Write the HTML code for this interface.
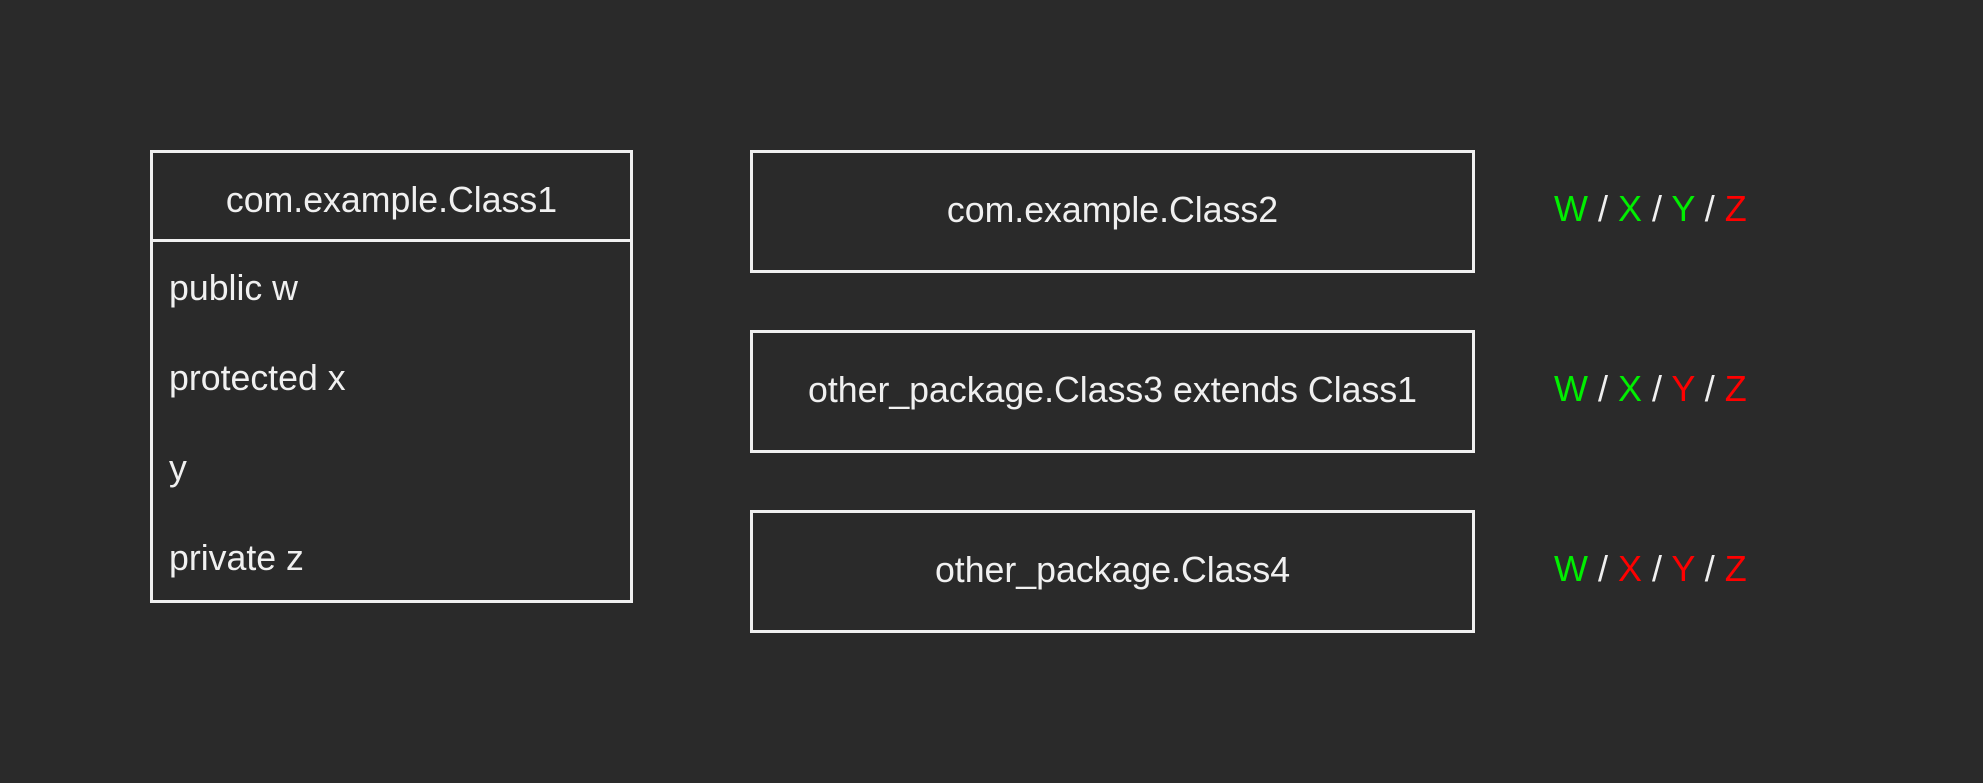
<!DOCTYPE html>
<html><head><meta charset="utf-8"><style>
html,body{margin:0;padding:0;background:#2a2a2a;}
body{width:1983px;height:783px;position:relative;overflow:hidden;font-family:"Liberation Sans",sans-serif;color:#f0f0f0;}
.b{position:absolute;border:3px solid #f0f0f0;box-sizing:border-box;}
.t{position:absolute;font-size:35.7px;line-height:40px;white-space:nowrap;}
.c{text-align:center;}
.g{color:#00ee00}.r{color:#ff0000}.w{color:#f0f0f0}
</style></head><body>
<div class="b" style="left:150px;top:150px;width:483px;height:453px;"></div>
<div style="position:absolute;left:150px;top:239px;width:483px;height:3px;background:#f0f0f0"></div>
<div class="t c" style="left:150px;width:483px;top:180px;">com.example.Class1</div>
<div class="t" style="left:169px;top:268px;">public w</div>
<div class="t" style="left:169px;top:358px;">protected x</div>
<div class="t" style="left:169px;top:448px;">y</div>
<div class="t" style="left:169px;top:538px;">private z</div>

<div class="b" style="left:750px;top:150px;width:725px;height:123px;"></div>
<div class="t c" style="left:750px;width:725px;top:190px;">com.example.Class2</div>
<div class="b" style="left:750px;top:330px;width:725px;height:123px;"></div>
<div class="t c" style="left:750px;width:725px;top:370px;">other_package.Class3 extends Class1</div>
<div class="b" style="left:750px;top:510px;width:725px;height:123px;"></div>
<div class="t c" style="left:750px;width:725px;top:550px;">other_package.Class4</div>

<div class="t" style="left:1554px;top:189px;font-size:36px;"><span class="g">W</span> / <span class="g">X</span> / <span class="g">Y</span> / <span class="r">Z</span></div>
<div class="t" style="left:1554px;top:369px;font-size:36px;"><span class="g">W</span> / <span class="g">X</span> / <span class="r">Y</span> / <span class="r">Z</span></div>
<div class="t" style="left:1554px;top:549px;font-size:36px;"><span class="g">W</span> / <span class="r">X</span> / <span class="r">Y</span> / <span class="r">Z</span></div>
</body></html>
